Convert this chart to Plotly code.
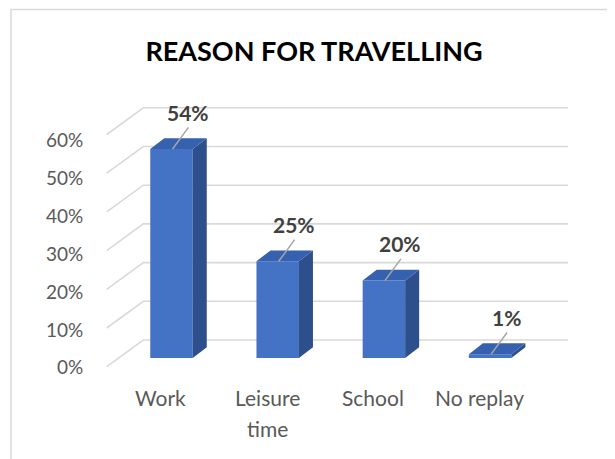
import textwrap
import plotly.graph_objects as go

# ---------------- data ----------------
categories = ["Work", "Leisure time", "School", "No replay"]
values = [0.54, 0.25, 0.20, 0.01]
value_labels = ["54%", "25%", "20%", "1%"]
tick_values = [0.0, 0.1, 0.2, 0.3, 0.4, 0.5, 0.6]
tick_labels = ["0%", "10%", "20%", "30%", "40%", "50%", "60%"]
title_text = "REASON FOR TRAVELLING"

# ---------------- style / pseudo-3D geometry (data units) ----------------
FONT = "Lato"
FRONT = "#4472C4"
SIDE = "#2D4F8C"
TOP = "#3661AE"
GRID = "#D9D9D9"
half_w = 0.2          # half bar width
bdx, bdy = 0.132, 0.028   # bar depth offset
wall_dx, wall_dy = -0.2655, 0.0465  # back wall start offset (relative to bar plane)
front_dx, front_dy = -0.610, -0.0225  # floor front edge
x_end = 3.7335

fig = go.Figure()

# front faces
xs = list(range(len(categories)))
fig.add_trace(go.Bar(x=xs, y=values, width=2 * half_w, marker=dict(color=FRONT, line=dict(width=0)),
                     hoverinfo="skip", showlegend=False))

# side and top faces
for i, v in zip(xs, values):
    side_x = [i + half_w, i + half_w + bdx, i + half_w + bdx, i + half_w, i + half_w]
    side_y = [0, bdy, v + bdy, v, 0]
    fig.add_trace(go.Scatter(x=side_x, y=side_y, fill="toself", fillcolor=SIDE, mode="lines",
                             line=dict(width=0, color=SIDE), hoverinfo="skip", showlegend=False))
    top_x = [i - half_w, i - half_w + bdx, i + half_w + bdx, i + half_w, i - half_w]
    top_y = [v, v + bdy, v + bdy, v, v]
    fig.add_trace(go.Scatter(x=top_x, y=top_y, fill="toself", fillcolor=TOP, mode="lines",
                             line=dict(width=0, color=TOP), hoverinfo="skip", showlegend=False))
    # leader line
    fig.add_trace(go.Scatter(x=[i + 0.01, i + 0.16], y=[v, v + 0.056], mode="lines",
                             line=dict(width=1.5, color="#A6A6A6"), hoverinfo="skip", showlegend=False))

shapes = []
for t in tick_values:
    shapes.append(dict(type="path", xref="x", yref="y", layer="below",
                       path=f"M {front_dx},{t + front_dy} L {wall_dx},{t + wall_dy} L {x_end},{t + wall_dy}",
                       line=dict(color=GRID, width=1.6)))
# outer chart border (top and left visible)
shapes.append(dict(type="path", xref="paper", yref="paper",
                   path="M -0.0345,-0.1 L -0.0345,1.1905 L 1.2,1.1905",
                   line=dict(color="#D9D9D9", width=1.5)))

annotations = []
for t, lab in zip(tick_values, tick_labels):
    annotations.append(dict(x=-0.8145, y=0.979 * t - 0.023, xref="x", yref="y", text=lab,
                            xanchor="right", yanchor="middle", showarrow=False,
                            font=dict(family=FONT, size=19, color="#595959")))
for i, c in zip(xs, categories):
    for k, line in enumerate(textwrap.wrap(c, 10)):
        annotations.append(dict(x=i - 0.10, y=-0.1026 - 0.08 * k, xref="x", yref="y", text=line,
                                xanchor="center", yanchor="middle", showarrow=False,
                                font=dict(family=FONT, size=21, color="#595959")))
for i, v, lab in zip(xs, values, value_labels):
    annotations.append(dict(x=i + 0.155, y=v + 0.0956, xref="x", yref="y", text=f"<b>{lab}</b>",
                            xanchor="center", yanchor="middle", showarrow=False,
                            font=dict(family=FONT, size=21, color="#404040")))

fig.update_layout(
    width=607, height=451,
    margin=dict(l=22, r=35, t=72, b=9),
    paper_bgcolor="white", plot_bgcolor="white",
    title=dict(text=f"<b>{title_text}</b>", x=306 / 607, xanchor="center",
               y=1 - 44 / 451, yanchor="middle", yref="container",
               font=dict(family=FONT, size=27, color="#000000")),
    xaxis=dict(range=[-1.3324, 3.8465], visible=False, fixedrange=True),
    yaxis=dict(range=[-0.2377, 0.71835], visible=False, fixedrange=True),
    shapes=shapes, annotations=annotations, showlegend=False,
)

fig.write_html("out.html")
